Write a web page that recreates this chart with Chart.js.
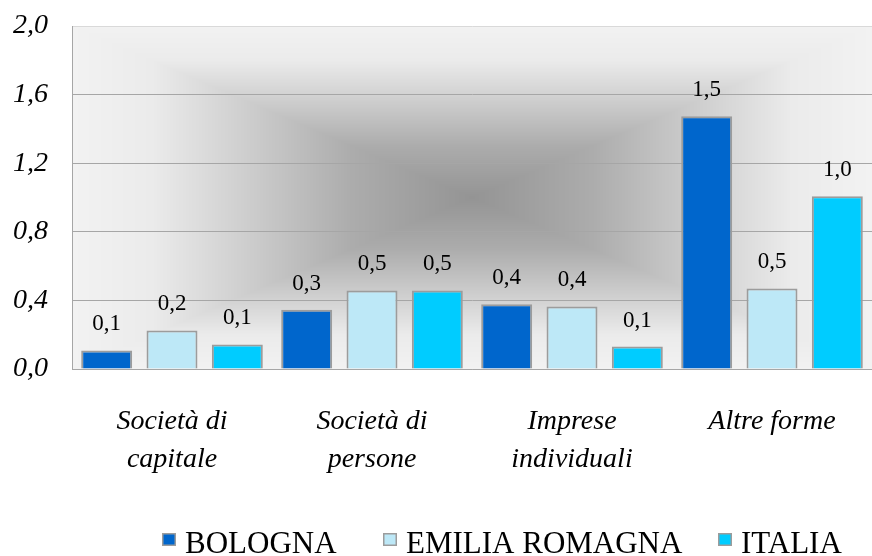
<!DOCTYPE html>
<html>
<head>
<meta charset="utf-8">
<script src="https://cdn.jsdelivr.net/npm/chart.js@4.4.1/dist/chart.umd.min.js"></script>
<style>
  html, body { margin: 0; padding: 0; background: #fff; }
  #wrap { width: 872px; height: 556px; }
</style>
</head>
<body>
<div id="wrap"><canvas id="grafico"></canvas></div>
<script>
var categorie = [['Società di', 'capitale'], ['Società di', 'persone'], ['Imprese', 'individuali'], 'Altre forme'];
var bologna = [0.108, 0.345, 0.377, 1.474];
var emilia = [0.225, 0.458, 0.365, 0.470];
var italia = [0.143, 0.458, 0.131, 1.007];
var serie = ['BOLOGNA', 'EMILIA ROMAGNA', 'ITALIA'];
var colori = ['#0066CC', '#BDE8F7', '#00CCFF'];

var serif = '"Liberation Serif", "Times New Roman", serif';

function virgola(v) {
  return Number(v).toFixed(1).replace('.', ',');
}

// sfondo sfumato dal centro (tipo Excel)
var sfondo = {
  id: 'sfondo',
  beforeDraw: function (chart) {
    var a = chart.chartArea;
    var w = Math.round(a.right - a.left), h = Math.round(a.bottom - a.top);
    var off = document.createElement('canvas');
    off.width = w; off.height = h;
    var octx = off.getContext('2d');
    var img = octx.createImageData(w, h);
    var stops = [[0, 242], [0.2, 235], [0.45, 204], [0.7, 172], [1, 148]];
    var hw = w / 2, hh = h / 2;
    for (var y = 0; y < h; y++) {
      for (var x = 0; x < w; x++) {
        var d = Math.max(Math.abs(x + 0.5 - hw) / hw, Math.abs(y + 0.5 - hh) / hh);
        var t = 1 - Math.min(d, 1);
        var c = 148;
        for (var k = 1; k < stops.length; k++) {
          if (t <= stops[k][0]) {
            var f = (t - stops[k - 1][0]) / (stops[k][0] - stops[k - 1][0]);
            c = stops[k - 1][1] + f * (stops[k][1] - stops[k - 1][1]);
            break;
          }
        }
        var i = (y * w + x) * 4;
        img.data[i] = c; img.data[i + 1] = c; img.data[i + 2] = c; img.data[i + 3] = 255;
      }
    }
    octx.putImageData(img, 0, 0);
    chart.ctx.drawImage(off, a.left, a.top);
  }
};

// etichette valori sopra le barre
var etichette = {
  id: 'etichette',
  afterDatasetsDraw: function (chart) {
    var ctx = chart.ctx;
    ctx.save();
    ctx.font = '23px ' + serif;
    ctx.fillStyle = '#000';
    ctx.textAlign = 'center';
    ctx.textBaseline = 'alphabetic';
    chart.data.datasets.forEach(function (ds, i) {
      chart.getDatasetMeta(i).data.forEach(function (bar, j) {
        ctx.fillText(virgola(ds.data[j]), bar.x, bar.y - 20);
      });
    });
    ctx.restore();
  }
};

// legenda in basso
var legenda = {
  id: 'legenda',
  afterDraw: function (chart) {
    var ctx = chart.ctx;
    var xs = [162, 383, 718];
    ctx.save();
    ctx.font = '31px ' + serif;
    ctx.textBaseline = 'alphabetic';
    chart.data.datasets.forEach(function (ds, i) {
      ctx.fillStyle = ds.backgroundColor;
      ctx.fillRect(xs[i], 533, 14, 13);
      ctx.strokeStyle = '#9c9c9c';
      ctx.lineWidth = 1.5;
      ctx.strokeRect(xs[i] + 0.75, 533.75, 12.5, 11.5);
      ctx.fillStyle = '#000';
      ctx.fillText(ds.label, xs[i] + 23, 553);
    });
    ctx.restore();
  }
};

function dataset(nome, valori, colore) {
  return {
    label: nome,
    data: valori,
    backgroundColor: colore,
    borderColor: '#9c9c9c',
    borderWidth: 2,
    barPercentage: 0.78,
    categoryPercentage: 0.98
  };
}

new Chart(document.getElementById('grafico'), {
  type: 'bar',
  data: {
    labels: categorie,
    datasets: [
      dataset(serie[0], bologna, colori[0]),
      dataset(serie[1], emilia, colori[1]),
      dataset(serie[2], italia, colori[2])
    ]
  },
  options: {
    responsive: true,
    maintainAspectRatio: false,
    animation: false,
    layout: { padding: { top: 26, right: 0, left: 0, bottom: 0 } },
    plugins: {
      legend: { display: false },
      tooltip: { enabled: false }
    },
    scales: {
      x: {
        grid: { display: false, drawTicks: false },
        border: { color: '#a6a6a6', width: 1 },
        ticks: {
          color: '#000',
          padding: 34,
          maxRotation: 0,
          font: { family: serif, size: 28, style: 'italic', lineHeight: 1.36 }
        },
        afterFit: function (scale) {
          scale.height = 187;
          scale.paddingLeft = 0; scale.paddingRight = 0;
        }
      },
      y: {
        min: 0,
        max: 2,
        grid: {
          drawTicks: false,
          color: function (c) { return c.tick && c.tick.value >= 2 ? '#d9d9d9' : '#a6a6a6'; }
        },
        border: { color: '#a6a6a6', width: 1 },
        ticks: {
          stepSize: 0.4,
          color: '#000',
          padding: 24,
          font: { family: serif, size: 28, style: 'italic' },
          callback: function (v) { return virgola(v); }
        },
        afterFit: function (scale) {
          scale.width = 72;
          scale.paddingTop = 0; scale.paddingBottom = 0;
        }
      }
    }
  },
  plugins: [sfondo, etichette, legenda]
});
</script>
</body>
</html>
